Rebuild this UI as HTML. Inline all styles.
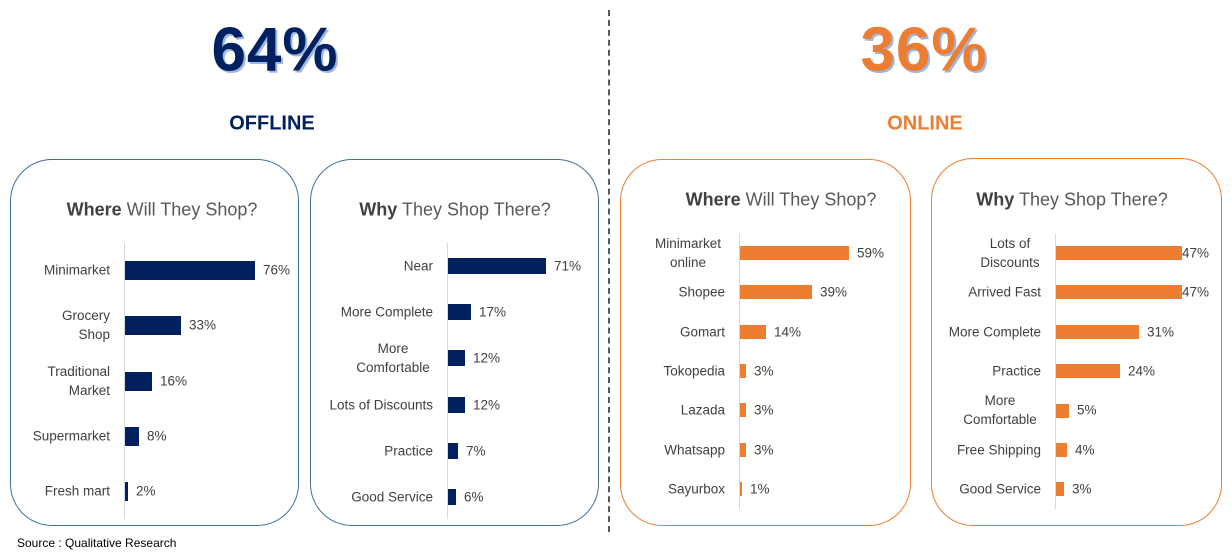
<!DOCTYPE html>
<html><head><meta charset="utf-8"><style>
body{margin:0;width:1232px;height:553px;background:#fff;position:relative;overflow:hidden;font-family:"Liberation Sans",sans-serif;color:#404040}
.a{position:absolute}
.panel{position:absolute;border:1.3px solid #41719c;border-radius:42px;box-sizing:border-box}
.po{border-color:#ed7d31}
.t{position:absolute;font-size:18px;transform:translate(-50%,-50%);white-space:nowrap;color:#595959}
.t b{color:#404040}
.l{position:absolute;font-size:13.5px;line-height:19px;text-align:right;transform:translateY(-50%);width:120px;color:#404040}
.lc{text-align:center}
.v{position:absolute;font-size:13.5px;transform:translateY(-50%);color:#404040}
.bb{position:absolute;background:#002060}
.bo{position:absolute;background:#ed7d31}
.ax{position:absolute;width:1px;background:#d9d9d9}
.big{position:absolute;font-size:62px;font-weight:bold;transform:translate(-50%,-50%);letter-spacing:1px}
.hd{position:absolute;font-size:20px;font-weight:bold;transform:translate(-50%,-50%)}
</style></head><body>
<div class="big" style="left:275px;top:50px;color:#002060;text-shadow:2px 2px 0 #9db7e3">64%</div>
<div class="big" style="left:924px;top:50px;color:#ed7d31;text-shadow:2px 2px 0 #9db7e3">36%</div>
<div class="hd" style="left:272px;top:124px;color:#002060">OFFLINE</div>
<div class="hd" style="left:925px;top:124px;color:#ed7d31">ONLINE</div>
<div class="a" style="left:608px;top:10px;height:522px;border-left:2px dashed #595959"></div>
<div class="a" style="left:17px;top:536px;font-size:12px;color:#000">Source : Qualitative Research</div>

<div class="panel" style="left:10px;top:159px;width:289px;height:367px"></div>
<div class="panel" style="left:310px;top:159px;width:289px;height:367px"></div>
<div class="panel po" style="left:620px;top:159px;width:291px;height:367px"></div>
<div class="panel po" style="left:931px;top:158px;width:291px;height:368px"></div>

<!-- Panel 1 -->
<div class="t" style="left:162px;top:210px"><b>Where</b> Will They Shop?</div>
<div class="ax" style="left:124px;top:243px;height:276px"></div>
<div class="l" style="left:-10px;top:270px">Minimarket</div><div class="bb" style="left:125px;top:261px;width:130px;height:19px"></div><div class="v" style="left:263px;top:270px">76%</div>
<div class="l" style="left:-10px;top:325px">Grocery<br>Shop</div><div class="bb" style="left:125px;top:316px;width:56px;height:19px"></div><div class="v" style="left:189px;top:325px">33%</div>
<div class="l" style="left:-10px;top:381px">Traditional<br>Market</div><div class="bb" style="left:125px;top:372px;width:27px;height:19px"></div><div class="v" style="left:160px;top:381px">16%</div>
<div class="l" style="left:-10px;top:436px">Supermarket</div><div class="bb" style="left:125px;top:427px;width:14px;height:19px"></div><div class="v" style="left:147px;top:436px">8%</div>
<div class="l" style="left:-10px;top:491px">Fresh mart</div><div class="bb" style="left:125px;top:482px;width:3px;height:19px"></div><div class="v" style="left:136px;top:491px">2%</div>

<!-- Panel 2 -->
<div class="t" style="left:455px;top:210px"><b>Why</b> They Shop There?</div>
<div class="ax" style="left:447px;top:243px;height:276px"></div>
<div class="l" style="left:313px;top:266px">Near</div><div class="bb" style="left:448px;top:258px;width:98px;height:16px"></div><div class="v" style="left:554px;top:266px">71%</div>
<div class="l" style="left:313px;top:312px">More Complete</div><div class="bb" style="left:448px;top:304px;width:23px;height:16px"></div><div class="v" style="left:479px;top:312px">17%</div>
<div class="l lc" style="left:333px;top:358px;width:120px">More<br>Comfortable</div><div class="bb" style="left:448px;top:350px;width:17px;height:16px"></div><div class="v" style="left:473px;top:358px">12%</div>
<div class="l" style="left:313px;top:405px">Lots of Discounts</div><div class="bb" style="left:448px;top:397px;width:17px;height:16px"></div><div class="v" style="left:473px;top:405px">12%</div>
<div class="l" style="left:313px;top:451px">Practice</div><div class="bb" style="left:448px;top:443px;width:10px;height:16px"></div><div class="v" style="left:466px;top:451px">7%</div>
<div class="l" style="left:313px;top:497px">Good Service</div><div class="bb" style="left:448px;top:489px;width:8px;height:16px"></div><div class="v" style="left:464px;top:497px">6%</div>

<!-- Panel 3 -->
<div class="t" style="left:781px;top:200px"><b>Where</b> Will They Shop?</div>
<div class="ax" style="left:739px;top:234px;height:275px"></div>
<div class="l lc" style="left:628px;top:253px">Minimarket<br>online</div><div class="bo" style="left:740px;top:246px;width:109px;height:14px"></div><div class="v" style="left:857px;top:253px">59%</div>
<div class="l" style="left:605px;top:292px">Shopee</div><div class="bo" style="left:740px;top:285px;width:72px;height:14px"></div><div class="v" style="left:820px;top:292px">39%</div>
<div class="l" style="left:605px;top:332px">Gomart</div><div class="bo" style="left:740px;top:325px;width:26px;height:14px"></div><div class="v" style="left:774px;top:332px">14%</div>
<div class="l" style="left:605px;top:371px">Tokopedia</div><div class="bo" style="left:740px;top:364px;width:6px;height:14px"></div><div class="v" style="left:754px;top:371px">3%</div>
<div class="l" style="left:605px;top:410px">Lazada</div><div class="bo" style="left:740px;top:403px;width:6px;height:14px"></div><div class="v" style="left:754px;top:410px">3%</div>
<div class="l" style="left:605px;top:450px">Whatsapp</div><div class="bo" style="left:740px;top:443px;width:6px;height:14px"></div><div class="v" style="left:754px;top:450px">3%</div>
<div class="l" style="left:605px;top:489px">Sayurbox</div><div class="bo" style="left:740px;top:482px;width:2px;height:14px"></div><div class="v" style="left:750px;top:489px">1%</div>

<!-- Panel 4 -->
<div class="t" style="left:1072px;top:200px"><b>Why</b> They Shop There?</div>
<div class="ax" style="left:1055px;top:234px;height:275px"></div>
<div class="l lc" style="left:950px;top:253px">Lots of<br>Discounts</div><div class="bo" style="left:1056px;top:246px;width:126px;height:14px"></div><div class="v" style="left:1182px;top:253px">47%</div>
<div class="l" style="left:921px;top:292px">Arrived Fast</div><div class="bo" style="left:1056px;top:285px;width:126px;height:14px"></div><div class="v" style="left:1182px;top:292px">47%</div>
<div class="l" style="left:921px;top:332px">More Complete</div><div class="bo" style="left:1056px;top:325px;width:83px;height:14px"></div><div class="v" style="left:1147px;top:332px">31%</div>
<div class="l" style="left:921px;top:371px">Practice</div><div class="bo" style="left:1056px;top:364px;width:64px;height:14px"></div><div class="v" style="left:1128px;top:371px">24%</div>
<div class="l lc" style="left:940px;top:410px">More<br>Comfortable</div><div class="bo" style="left:1056px;top:404px;width:13px;height:14px"></div><div class="v" style="left:1077px;top:410px">5%</div>
<div class="l" style="left:921px;top:450px">Free Shipping</div><div class="bo" style="left:1056px;top:443px;width:11px;height:14px"></div><div class="v" style="left:1075px;top:450px">4%</div>
<div class="l" style="left:921px;top:489px">Good Service</div><div class="bo" style="left:1056px;top:482px;width:8px;height:14px"></div><div class="v" style="left:1072px;top:489px">3%</div>
</body></html>
